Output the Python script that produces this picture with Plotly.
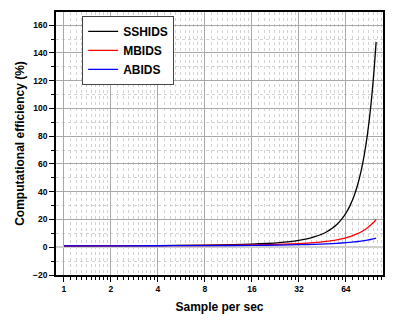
import plotly.graph_objects as go

x = [1, 2, 4, 8, 12, 16, 20, 24, 28, 32, 36, 40, 44, 48, 52, 56, 60, 64, 68, 72, 76, 80, 84, 88, 92, 96, 100]
sshids = [1.05, 1.1, 1.2, 1.5, 1.8, 2.2, 2.7, 3.3, 4.1, 5.0, 6.0, 7.4, 9.0, 11.0, 13.5, 16.4, 20.1, 24.5, 30.0, 36.6, 44.7, 54.6, 66.7, 81.5, 99.5, 121.5, 148.0]
mbids = [1.03, 1.06, 1.13, 1.27, 1.43, 1.62, 1.82, 2.05, 2.32, 2.61, 2.94, 3.32, 3.74, 4.22, 4.76, 5.37, 6.05, 6.82, 7.69, 8.67, 9.78, 11.0, 12.4, 14.0, 15.8, 17.8, 20.1]
abids = [1.02, 1.04, 1.08, 1.16, 1.25, 1.35, 1.45, 1.57, 1.69, 1.82, 1.96, 2.11, 2.28, 2.45, 2.64, 2.85, 3.07, 3.31, 3.57, 3.84, 4.14, 4.46, 4.81, 5.18, 5.58, 6.02, 6.5]
x_ticks = [1, 2, 4, 8, 16, 32, 64]
x_ticktext = ["1", "2", "4", "8", "16", "32", "64"]
x_minor = [b * (1 + i / 10) for b in [1, 2, 4, 8, 16, 32, 64] for i in range(1, 10)]

fig = go.Figure()
fig.add_trace(go.Scatter(x=x, y=sshids, mode="lines", name="SSHIDS",
                         line=dict(color="black", width=1.3, shape="spline")))
fig.add_trace(go.Scatter(x=x, y=mbids, mode="lines", name="MBIDS",
                         line=dict(color="red", width=1.3, shape="spline")))
fig.add_trace(go.Scatter(x=x, y=abids, mode="lines", name="ABIDS",
                         line=dict(color="blue", width=1.3, shape="spline")))

fig.update_layout(
    width=411, height=326,
    margin=dict(l=48, r=36, t=4, b=59),
    paper_bgcolor="white", plot_bgcolor="white",
    font=dict(family="Liberation Sans, Arial", size=8, color="black"),
    showlegend=True,
    legend=dict(x=0.08, y=0.985, xanchor="left", yanchor="top",
                bgcolor="white", bordercolor="#444", borderwidth=1,
                font=dict(size=12, family="Liberation Sans, Arial", weight="bold"),
                itemwidth=30, tracegroupgap=0),
)
fig.update_xaxes(
    type="log", range=[-0.051, 2.044],
    tickmode="array", tickvals=x_ticks, ticktext=x_ticktext,
    tickfont=dict(size=8.5, weight="bold"),
    ticks="outside", ticklen=5, tickwidth=1.2, tickcolor="black",
    showline=True, linecolor="black", linewidth=1.8, mirror=True,
    showgrid=True, gridcolor="#a8a8a8", gridwidth=1,
    minor=dict(tickmode="array", tickvals=x_minor, ticks="outside", ticklen=3,
               tickcolor="black", showgrid=True, gridcolor="#d2d2d2", griddash="dot"),
    title=dict(text="Sample per sec", font=dict(size=12, weight="bold"), standoff=10),
    zeroline=False, automargin=False,
)
fig.update_yaxes(
    range=[-20, 169.5],
    tickmode="linear", tick0=0, dtick=20,
    tickfont=dict(size=8.5, weight="bold"),
    ticks="outside", ticklen=5, tickwidth=1.2, tickcolor="black",
    showline=True, linecolor="black", linewidth=1.8, mirror=True,
    showgrid=True, gridcolor="#a8a8a8", gridwidth=1,
    minor=dict(dtick=10, ticks="outside", ticklen=3, tickcolor="black",
               showgrid=True, gridcolor="#d2d2d2", griddash="dot"),
    zeroline=True, zerolinecolor="#d0d0d0", zerolinewidth=2,
    title=dict(text="Computational efficiency (%)", font=dict(size=12, weight="bold"), standoff=6),
    automargin=False,
)
fig.write_html("out.html")
